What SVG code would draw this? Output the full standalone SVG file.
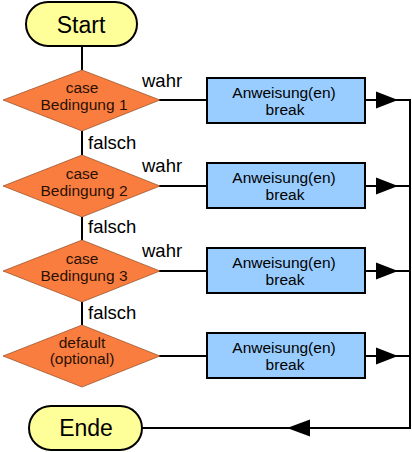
<svg xmlns="http://www.w3.org/2000/svg" width="412" height="452" viewBox="0 0 412 452">
<style>
.term{fill:#FFFF99;stroke:#000;stroke-width:2}
.dia{fill:#FA7D40;stroke:#7a3a10;stroke-width:0.6}
.box{fill:#99CCFF;stroke:#000;stroke-width:2}
.ln{stroke:#000;stroke-width:2;fill:none}
text{font-family:"Liberation Sans",Arial,sans-serif;fill:#000;text-anchor:middle}
.big{font-size:23px}
.mid{font-size:15.5px}
.dt{fill:#2a1000}
.lbl{font-size:18.5px;text-anchor:start}
</style>
<defs>
<polygon id="arrR" points="0,0 -22,-8.5 -22,8.5" fill="#000"/>
<polygon id="arrL" points="0,0 23,-8.5 23,8.5" fill="#000"/>
</defs>
<g id="connectors">
<line class="ln" x1="82" y1="46" x2="82" y2="70"/>
<line class="ln" x1="82" y1="131" x2="82" y2="155"/>
<line class="ln" x1="82" y1="217" x2="82" y2="240"/>
<line class="ln" x1="82" y1="302" x2="82" y2="325"/>
<line class="ln" x1="159" y1="100" x2="207" y2="100"/>
<line class="ln" x1="159" y1="186" x2="207" y2="186"/>
<line class="ln" x1="159" y1="271" x2="207" y2="271"/>
<line class="ln" x1="159" y1="356" x2="207" y2="356"/>
<line class="ln" x1="365" y1="100" x2="410" y2="100"/>
<line class="ln" x1="365" y1="186" x2="410" y2="186"/>
<line class="ln" x1="365" y1="271" x2="410" y2="271"/>
<line class="ln" x1="365" y1="356" x2="410" y2="356"/>
<polyline class="ln" points="410,99 410,428 142,428"/>
<use href="#arrR" x="398" y="100"/>
<use href="#arrR" x="398" y="186"/>
<use href="#arrR" x="398" y="271"/>
<use href="#arrR" x="398" y="356"/>
<use href="#arrL" x="287" y="428"/>
<text class="lbl" x="142" y="87">wahr</text>
<text class="lbl" x="142" y="172">wahr</text>
<text class="lbl" x="142" y="257">wahr</text>
<text class="lbl" x="88" y="149">falsch</text>
<text class="lbl" x="88" y="233">falsch</text>
<text class="lbl" x="88" y="319">falsch</text>
</g>
<g id="start">
<rect class="term" x="26" y="2" width="111" height="44" rx="22"/>
<text class="big" x="81" y="33">Start</text>
</g>
<g id="case1">
<polygon class="dia" points="82,70 160,100 82,131 3,100"/>
<text class="mid dt" x="82" y="93">case</text>
<text class="mid dt" x="84" y="110">Bedingung 1</text>
</g>
<g id="case2">
<polygon class="dia" points="82,155 160,186 82,217 3,186"/>
<text class="mid dt" x="82" y="179">case</text>
<text class="mid dt" x="84" y="196">Bedingung 2</text>
</g>
<g id="case3">
<polygon class="dia" points="82,240 160,271 82,302 3,271"/>
<text class="mid dt" x="82" y="264">case</text>
<text class="mid dt" x="84" y="281">Bedingung 3</text>
</g>
<g id="default">
<polygon class="dia" points="82,325 160,356 82,387 3,356"/>
<text class="mid dt" x="82" y="348">default</text>
<text class="mid dt" x="82" y="364">(optional)</text>
</g>
<g id="box1">
<rect class="box" x="207" y="78" width="158" height="45"/>
<text class="mid" x="284" y="97.5">Anweisung(en)</text>
<text class="mid" x="285" y="115">break</text>
</g>
<g id="box2">
<rect class="box" x="207" y="163" width="158" height="45"/>
<text class="mid" x="284" y="182.5">Anweisung(en)</text>
<text class="mid" x="285" y="200">break</text>
</g>
<g id="box3">
<rect class="box" x="207" y="248" width="158" height="45"/>
<text class="mid" x="284" y="267.5">Anweisung(en)</text>
<text class="mid" x="285" y="285">break</text>
</g>
<g id="box4">
<rect class="box" x="207" y="333" width="158" height="45"/>
<text class="mid" x="284" y="352.5">Anweisung(en)</text>
<text class="mid" x="285" y="370">break</text>
</g>
<g id="ende">
<rect class="term" x="29" y="406" width="113" height="44" rx="22"/>
<text class="big" x="86" y="436">Ende</text>
</g>
</svg>
